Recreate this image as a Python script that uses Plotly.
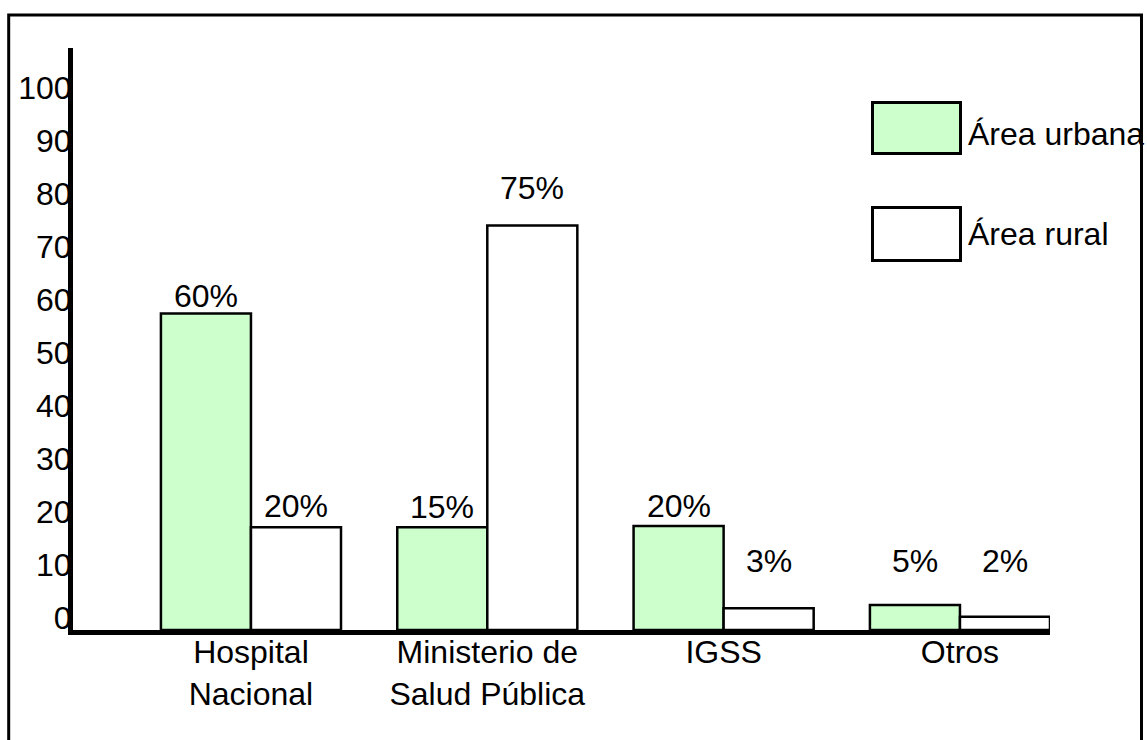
import plotly.graph_objects as go

# ---- data ----
categories = ["Hospital Nacional", "Ministerio de Salud Pública", "IGSS", "Otros"]
category_labels = ["Hospital<br>Nacional", "Ministerio de<br>Salud Pública", "IGSS", "Otros"]
series_names = ["Área urbana", "Área rural"]
urbana = [59.7, 19.4, 19.6, 4.7]
rural = [19.4, 76.3, 4.1, 2.5]
urbana_text = ["60%", "15%", "20%", "5%"]
rural_text = ["20%", "75%", "3%", "2%"]
y_ticks = [0, 10, 20, 30, 40, 50, 60, 70, 80, 90, 100]
y_tick_text = [str(v) for v in y_ticks]

# ---- label placement (axis units) ----
urbana_label_y = [63.1, 23.3, 23.4, 13.1]
rural_label_y = [23.4, 83.3, 13.1, 13.1]

W, H = 1147, 740
FONT = "Liberation Sans, Arial, sans-serif"
FS = 32
GREEN = "#CCFFCC"
BAR_HALF = 0.1905

fig = go.Figure()
fig.add_trace(go.Bar(x=categories, y=urbana, name=series_names[0],
                     marker=dict(color=GREEN, line=dict(color="black", width=2.5))))
fig.add_trace(go.Bar(x=categories, y=rural, name=series_names[1],
                     marker=dict(color="white", line=dict(color="black", width=2.5))))

annotations = []
for i, (t, y) in enumerate(zip(urbana_text, urbana_label_y)):
    annotations.append(dict(x=i - BAR_HALF, y=y, xref="x", yref="y", text=t, showarrow=False,
                            xanchor="center", yanchor="middle",
                            font=dict(family=FONT, size=FS, color="black")))
for i, (t, y) in enumerate(zip(rural_text, rural_label_y)):
    annotations.append(dict(x=i + BAR_HALF, y=y, xref="x", yref="y", text=t, showarrow=False,
                            xanchor="center", yanchor="middle",
                            font=dict(family=FONT, size=FS, color="black")))

# legend (drawn manually with large swatches)
legend_rows = [(102.5, 153.5, GREEN, 134), (207.5, 260.5, "white", 234)]
shapes = []
for (top, bot, col, ty), name in zip(legend_rows, series_names):
    shapes.append(dict(type="rect", xref="paper", yref="paper",
                       x0=872.5 / W, x1=960.5 / W, y0=(H - bot) / H, y1=(H - top) / H,
                       fillcolor=col, line=dict(color="black", width=3)))
    annotations.append(dict(x=966 / W, y=(H - ty) / H, xref="paper", yref="paper",
                            text=name, showarrow=False, xanchor="left", yanchor="middle",
                            font=dict(family=FONT, size=FS, color="black")))

# outer frame
shapes.append(dict(type="rect", xref="paper", yref="paper",
                   x0=8.7 / W, x1=1141.5 / W, y0=-0.02, y1=(H - 15) / H,
                   fillcolor="rgba(0,0,0,0)", line=dict(color="black", width=3)))

fig.update_layout(
    width=W, height=H,
    margin=dict(l=0, r=0, t=0, b=0),
    paper_bgcolor="white", plot_bgcolor="white",
    barmode="group", bargap=0.238, bargroupgap=0,
    showlegend=False,
    font=dict(family=FONT, size=FS, color="black"),
    shapes=shapes, annotations=annotations,
    xaxis=dict(domain=[73 / W, 1050 / W], range=[-0.753, 3.381], type="category",
               tickvals=categories, ticktext=category_labels,
               showline=True, linewidth=5, linecolor="black", showgrid=False,
               zeroline=False, ticks="", automargin=False,
               ticklabelstandoff=-10,
               tickfont=dict(family=FONT, size=FS, color="black")),
    yaxis=dict(domain=[110 / H, 692 / H], range=[0, 109.8],
               tickvals=y_ticks, ticktext=y_tick_text,
               showline=True, linewidth=5, linecolor="black", showgrid=False,
               zeroline=False, ticks="", automargin=False,
               ticklabelshift=-12, ticklabelstandoff=-10,
               tickfont=dict(family=FONT, size=FS, color="black")),
)

fig.write_html("out.html",
               config={"displayModeBar": False},
               post_script="document.body.style.margin='0';document.body.style.padding='0';")
